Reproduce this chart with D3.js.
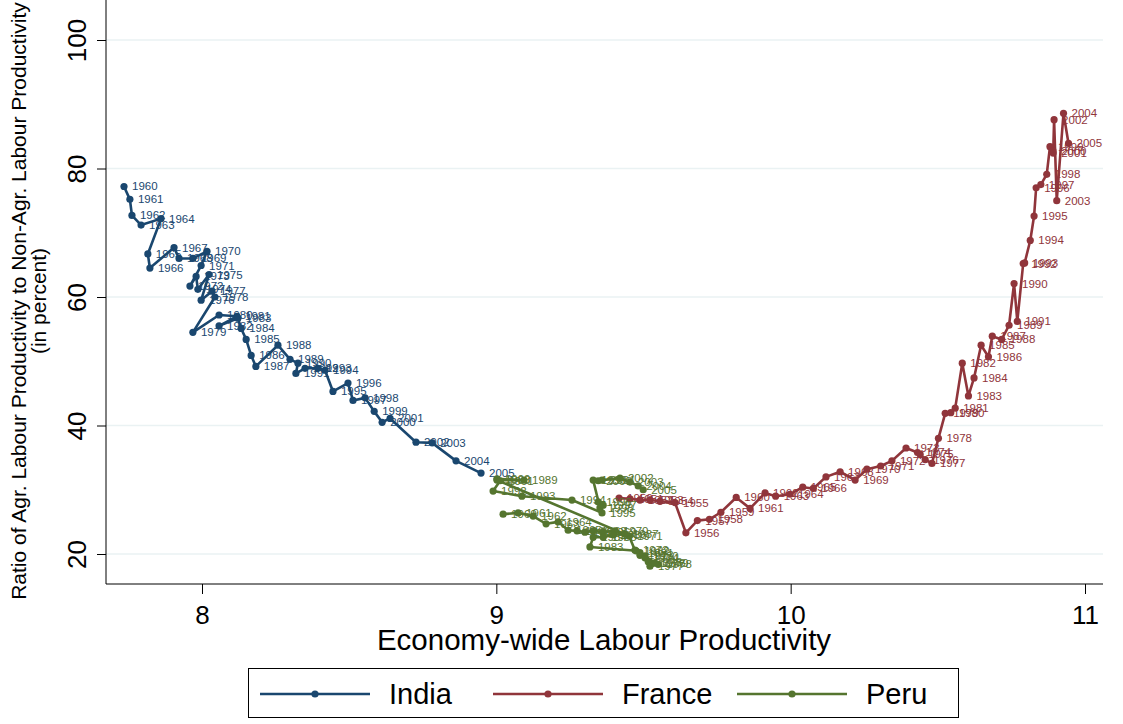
<!DOCTYPE html>
<html><head><meta charset="utf-8">
<script src="https://cdn.jsdelivr.net/npm/d3@7"></script>
<style>body{margin:0;background:#fff}svg{display:block}text{font-family:"Liberation Sans",Arial,sans-serif}</style>
</head><body><svg id="c" width="1123" height="724"></svg>
<script>
const indiaYears = d3.range(1960, 2006);
const indiaX = [7.735,7.755,7.762,7.793,7.861,7.816,7.823,7.905,7.922,7.969,8.017,7.997,7.959,7.980,7.986,8.024,7.997,8.034,8.044,7.969,8.058,8.119,8.058,8.122,8.133,8.150,8.167,8.183,8.258,8.299,8.326,8.319,8.350,8.394,8.418,8.445,8.496,8.513,8.554,8.585,8.612,8.639,8.727,8.782,8.863,8.948];
const indiaY = [77.2,75.2,72.7,71.2,72.2,66.7,64.5,67.7,66.0,66.0,67.1,64.9,61.7,63.2,61.2,63.5,59.5,60.9,60.0,54.5,57.2,57.0,55.5,56.7,55.1,53.4,50.9,49.2,52.5,50.3,49.7,48.1,48.9,48.9,48.6,45.3,46.6,43.9,44.3,42.2,40.5,41.1,37.4,37.3,34.5,32.6];

const franceYears = d3.range(1950, 2006);
const franceX = [9.417,9.454,9.488,9.522,9.556,9.607,9.644,9.683,9.724,9.763,9.815,9.862,9.913,9.949,9.998,10.041,10.077,10.120,10.168,10.219,10.259,10.306,10.344,10.392,10.431,10.440,10.457,10.480,10.502,10.525,10.544,10.559,10.583,10.604,10.623,10.647,10.672,10.685,10.717,10.742,10.759,10.770,10.790,10.795,10.814,10.827,10.834,10.850,10.870,10.881,10.891,10.892,10.895,10.904,10.927,10.944];
const franceY = [28.7,28.6,28.4,28.4,28.2,28.0,23.3,25.2,25.4,26.5,28.8,27.1,29.5,29.0,29.3,30.4,30.2,32.0,32.8,31.5,33.2,33.7,34.5,36.5,35.8,35.5,34.7,34.1,38.0,41.9,42.0,42.7,49.7,44.6,47.4,52.5,50.7,53.9,53.4,55.6,62.1,56.2,65.2,65.3,68.8,72.6,77.0,77.5,79.1,83.4,82.8,82.4,87.6,75.0,88.6,83.9];

const peruYears = d3.range(1960, 2006);
const peruX = [9.023,9.074,9.125,9.169,9.210,9.244,9.274,9.301,9.329,9.363,9.403,9.451,9.471,9.488,9.505,9.516,9.529,9.522,9.550,9.539,9.505,9.488,9.475,9.318,9.329,9.363,9.397,9.437,9.002,9.094,9.002,9.013,8.989,9.087,9.257,9.359,9.346,9.363,9.352,9.329,9.346,9.359,9.420,9.454,9.482,9.499];
const peruY = [26.2,26.4,25.9,24.7,25.0,23.7,23.6,23.4,23.6,23.4,23.6,22.8,20.6,19.8,19.4,18.8,18.6,18.1,18.4,18.6,19.7,20.2,20.5,21.1,22.6,22.6,23.0,23.1,31.5,31.5,31.7,31.4,29.8,29.0,28.4,26.4,28.1,27.6,27.2,31.5,31.4,31.5,31.8,31.2,30.6,30.0];

const xTicks = [8, 9, 10, 11];
const yTicks = [20, 40, 60, 80, 100];
const seriesNames = ["India", "France", "Peru"];
const seriesColors = ["#1a476f", "#90353b", "#55752f"];

const svg = d3.select("#c");
const x = d3.scaleLinear().domain([8, 11]).range([202, 1085]);
const y = d3.scaleLinear().domain([20, 100]).range([554, 40]);
const plotL = 106, plotR = 1103, plotB = 584, plotT = 0;

svg.append("g").selectAll("line").data(yTicks).join("line")
  .attr("x1", plotL).attr("x2", plotR).attr("y1", d => y(d)).attr("y2", d => y(d))
  .attr("stroke", "#eaf2f3").attr("stroke-width", 1.5);

const xAxis = d3.axisBottom(x).tickValues(xTicks).tickSize(10).tickPadding(8).tickFormat(d3.format("d"));
const gx = svg.append("g").attr("transform", `translate(0,${plotB})`).call(xAxis);
gx.select(".domain").remove();
gx.selectAll("line").attr("stroke", "#000");
gx.selectAll("text").attr("font-size", 26).attr("fill", "#000").attr("dy", null).attr("y", 40);
svg.append("line").attr("x1", plotL).attr("x2", plotR).attr("y1", plotB).attr("y2", plotB).attr("stroke", "#000").attr("stroke-width", 1);

const yAxis = d3.axisLeft(y).tickValues(yTicks).tickSize(9).tickPadding(8).tickFormat(d3.format("d"));
const gy = svg.append("g").attr("transform", `translate(${plotL},0)`).call(yAxis);
gy.select(".domain").remove();
gy.selectAll("line").attr("stroke", "#000");
gy.selectAll("text").attr("font-size", 26).attr("fill", "#000")
  .attr("text-anchor", "middle").attr("dy", null).attr("x", null).attr("y", null)
  .attr("transform", "translate(-20,0) rotate(-90)");
svg.append("line").attr("x1", plotL).attr("x2", plotL).attr("y1", plotT).attr("y2", plotB).attr("stroke", "#000").attr("stroke-width", 1);

svg.append("text").attr("x", 604).attr("y", 650).attr("text-anchor", "middle").attr("font-size", 29.5).text("Economy-wide Labour Productivity");
svg.append("text").attr("transform", "translate(26,301) rotate(-90)").attr("text-anchor", "middle").attr("font-size", 21)
  .text("Ratio of Agr. Labour Productivity to Non-Agr. Labour Productivity");
svg.append("text").attr("transform", "translate(46,301) rotate(-90)").attr("text-anchor", "middle").attr("font-size", 21)
  .text("(in percent)");

const series = [
  {name: seriesNames[0], color: seriesColors[0], pts: indiaYears.map((yr,i) => ({yr, x: indiaX[i], y: indiaY[i]}))},
  {name: seriesNames[1], color: seriesColors[1], pts: franceYears.map((yr,i) => ({yr, x: franceX[i], y: franceY[i]}))},
  {name: seriesNames[2], color: seriesColors[2], pts: peruYears.map((yr,i) => ({yr, x: peruX[i], y: peruY[i]}))}
];
const line = d3.line().x(d => x(d.x)).y(d => y(d.y));

series.forEach(s => {
  const g = svg.append("g");
  g.append("path").attr("d", line(s.pts)).attr("fill", "none").attr("stroke", s.color).attr("stroke-width", 2.6).attr("stroke-linejoin", "round");
  g.selectAll("circle").data(s.pts).join("circle").attr("cx", d => x(d.x)).attr("cy", d => y(d.y)).attr("r", 3.6).attr("fill", s.color);
  g.selectAll("text").data(s.pts).join("text").attr("x", d => x(d.x) + 8).attr("y", d => y(d.y) + 4)
    .attr("font-size", 11.5).attr("fill", s.color).text(d => d.yr);
});

const lg = svg.append("g");
lg.append("rect").attr("x", 248.5).attr("y", 668.5).attr("width", 710).attr("height", 49).attr("fill", "#fff").attr("stroke", "#000").attr("stroke-width", 1);
const legX = [260, 493, 737];
series.forEach((s, i) => {
  lg.append("line").attr("x1", legX[i]).attr("x2", legX[i] + 110).attr("y1", 694).attr("y2", 694).attr("stroke", s.color).attr("stroke-width", 2.6);
  lg.append("circle").attr("cx", legX[i] + 55).attr("cy", 694).attr("r", 3.6).attr("fill", s.color);
  lg.append("text").attr("x", legX[i] + 129).attr("y", 704).attr("font-size", 29).text(s.name);
});
</script></body></html>
